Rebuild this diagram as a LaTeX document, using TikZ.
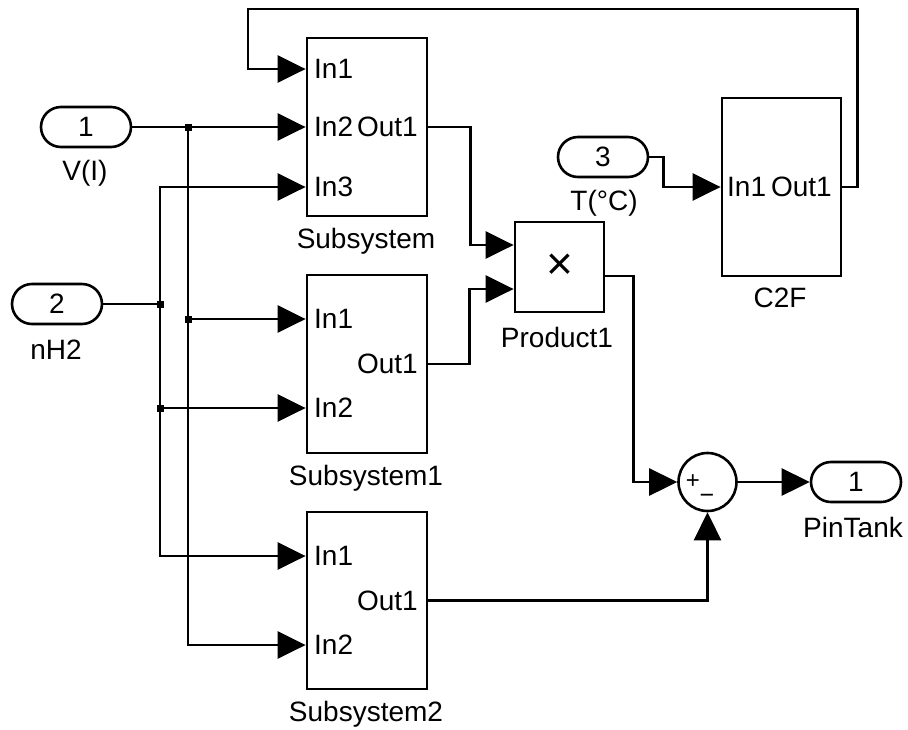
\documentclass[tikz,border=0pt]{standalone}
\usepackage{fontspec}
\setmainfont{Liberation Sans}
\usetikzlibrary{arrows.meta}

\tikzset{
  blk/.style={draw, line width=2.8pt, inner sep=0pt},
  port/.style={draw, line width=2.6pt, rounded corners=20pt, minimum width=90pt, minimum height=40pt, inner sep=0pt},
  wire/.style={line width=2.7pt},
  sig/.style={wire, -{Triangle[length=28pt,width=27pt]}},
  pin/.style={inner sep=0pt},
  lbl/.style={anchor=base, inner sep=0pt},
  dot/.style={fill, minimum size=7pt, inner sep=0pt},
}

\begin{document}
\begin{tikzpicture}[x=1pt, y=-1pt, font=\fontsize{28}{32}\selectfont]
    \fill[white] (0,0) rectangle (908,729);
    \useasboundingbox (0,0) rectangle (908,729);

    % inports and outport
    \node[port] (v) at (86,127) {1};
    \node[lbl] at (85,180) {V(I)};
    \node[port] (h) at (57,304) {2};
    \node[lbl] at (56,359) {nH2};
    \node[port] (t) at (603,157) {3};
    \node[lbl] at (604,210) {T(°C)};
    \node[port] (out) at (856,482) {1};
    \node[lbl] at (853,537) {PinTank};

    % subsystems
    \node[blk, minimum width=120pt, minimum height=178pt] (sub) at (367,127) {};
    \node[pin, anchor=west] at (314,69) {In1};
    \node[pin, anchor=west] at (314,127) {In2};
    \node[pin, anchor=west] at (314,187) {In3};
    \node[pin, anchor=east] at (418,127) {Out1};
    \node[lbl] at (366,248) {Subsystem};

    \node[blk, minimum width=120pt, minimum height=178pt] (sub1) at (367,364) {};
    \node[pin, anchor=west] at (314,319) {In1};
    \node[pin, anchor=west] at (314,408) {In2};
    \node[pin, anchor=east] at (418,364) {Out1};
    \node[lbl] at (366,485) {Subsystem1};

    \node[blk, minimum width=120pt, minimum height=177pt] (sub2) at (367,600.5) {};
    \node[pin, anchor=west] at (314,556) {In1};
    \node[pin, anchor=west] at (314,645) {In2};
    \node[pin, anchor=east] at (418,601) {Out1};
    \node[lbl] at (366,721) {Subsystem2};

    \node[blk, minimum width=119pt, minimum height=178pt] (c2f) at (781.5,187) {};
    \node[pin, anchor=west] at (727,187) {In1};
    \node[pin, anchor=east] at (832,187) {Out1};
    \node[lbl] at (780,307) {C2F};

    % product and sum
    \node[blk, minimum width=89pt, minimum height=90pt, font=\fontsize{46}{46}\selectfont] (prod) at (559.5,267) {×};
    \node[lbl] at (557,347) {Product1};
    \node[draw, circle, line width=2.6pt, minimum size=58pt, inner sep=0pt] (sum) at (707.5,482) {};
    \node[pin, font=\fontsize{24}{24}\selectfont] at (693,482) {+};
    \node[pin, font=\fontsize{25}{25}\selectfont] at (707,499) {−};

    % junctions
    \node[dot] (j1) at (188,127) {};
    \node[dot] (j2) at (160,304) {};
    \node[dot] (j3) at (188,319) {};
    \node[dot] (j4) at (160,408) {};

    % input bus
    \draw[sig] (v) -- (sub.west |- v);
    \draw[wire] (h) -- (j2.center);
    \draw[sig] (j2.center) |- (sub.west |- 0,187);
    \draw[sig] (j2.center) |- (sub2.west |- 0,556);
    \draw[sig] (j4.center) -- (sub1.west |- j4);
    \draw[sig] (j1.center) |- (sub2.west |- 0,645);
    \draw[sig] (j3.center) -- (sub1.west |- j3);

    % temperature loop
    \draw[sig] (t.east) -- ++(14,0) |- (c2f.west);
    \draw[sig] (c2f.east) -- ++(15,0) |- (248,9) |- (sub.west |- 0,69);

    % outputs
    \draw[sig] (sub.east) -- ++(42,0) |- (prod.west |- 0,245);
    \draw[sig] (sub1.east) -- ++(41,0) |- (prod.west |- 0,289);
    \draw[sig] (prod.east |- 0,276) -- ++(28,0) |- (sum.west);
    \draw[sig] (sub2.east) -| (sum.south);
    \draw[sig] (sum) -- (out);
\end{tikzpicture}
\end{document}
